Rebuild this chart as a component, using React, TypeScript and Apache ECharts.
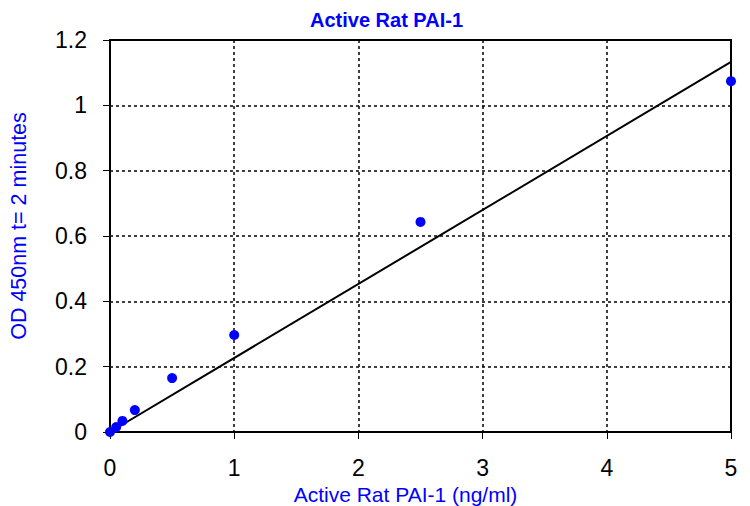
import React, { useEffect, useRef } from "react";
import * as echarts from "echarts";

const concentrations = [0, 0.05, 0.1, 0.2, 0.5, 1, 2.5, 5];
const odValues = [0, 0.015, 0.034, 0.067, 0.165, 0.297, 0.643, 1.074];
const trendX = [0, 5];
const trendY = [0, 1.133];
const xTicks = [0, 1, 2, 3, 4, 5];
const yTicks = [0, 0.2, 0.4, 0.6, 0.8, 1, 1.2];

export default function App() {
  const ref = useRef<HTMLDivElement>(null);
  useEffect(() => {
    const chart = echarts.init(ref.current!, null, { renderer: "svg" });
    const font = "Liberation Sans, Arial, sans-serif";
    chart.setOption({
      animation: false,
      backgroundColor: "#fff",
      title: {
        text: "Active Rat PAI-1",
        left: 305,
        top: 5,
        textStyle: { color: "#0000ff", fontSize: 20, fontWeight: "bold", fontFamily: font },
      },
      grid: {
        left: 110,
        right: 19,
        top: 40,
        bottom: 74,
        show: true,
        borderColor: "#000",
        borderWidth: 2,
        backgroundColor: "transparent",
        outerBoundsMode: "none",
        containLabel: false,
      },
      xAxis: {
        type: "value",
        min: xTicks[0],
        max: xTicks[xTicks.length - 1],
        interval: 1,
        name: "Active Rat PAI-1 (ng/ml)",
        nameLocation: "middle",
        nameGap: 52,
        nameTextStyle: { color: "#0000ff", fontSize: 21, fontFamily: font, padding: [0, 30, 0, 0] },
        axisLine: { show: true, lineStyle: { color: "#000", width: 2 } },
        axisTick: { show: true, inside: false, length: 7, lineStyle: { color: "#000", width: 1 } },
        axisLabel: { color: "#000", fontSize: 23, fontFamily: font, margin: 24 },
        splitLine: { show: true, lineStyle: { color: "#000", type: [3, 3], width: 1.5 } },
      },
      yAxis: {
        type: "value",
        min: yTicks[0],
        max: yTicks[yTicks.length - 1],
        interval: 0.2,
        name: "OD 450nm t= 2 minutes",
        nameLocation: "middle",
        nameGap: 80,
        nameRotate: 90,
        nameTextStyle: { color: "#0000ff", fontSize: 21.5, fontFamily: font, padding: [0, 0, 0, 20] },
        axisLine: { show: true, lineStyle: { color: "#000", width: 2 } },
        axisTick: { show: true, inside: false, length: 7, lineStyle: { color: "#000", width: 1 } },
        axisLabel: {
          color: "#000",
          fontSize: 23,
          fontFamily: font,
          margin: 23,
          formatter: (v: number) => String(Math.round(v * 10) / 10),
        },
        splitLine: { show: true, lineStyle: { color: "#000", type: [3, 3], width: 1.5 } },
      },
      series: [
        {
          type: "line",
          data: trendX.map((x, i) => [x, trendY[i]]),
          showSymbol: false,
          symbol: "none",
          lineStyle: { color: "#000", width: 2 },
          z: 2,
        },
        {
          type: "scatter",
          data: concentrations.map((x, i) => [x, odValues[i]]),
          symbol: "circle",
          symbolSize: 10,
          itemStyle: { color: "#0000ff", opacity: 1 },
          z: 3,
        },
      ],
    });
    return () => chart.dispose();
  }, []);
  return <div ref={ref} style={{ width: 750, height: 506, position: "absolute", left: 0, top: 0 }} />;
}
